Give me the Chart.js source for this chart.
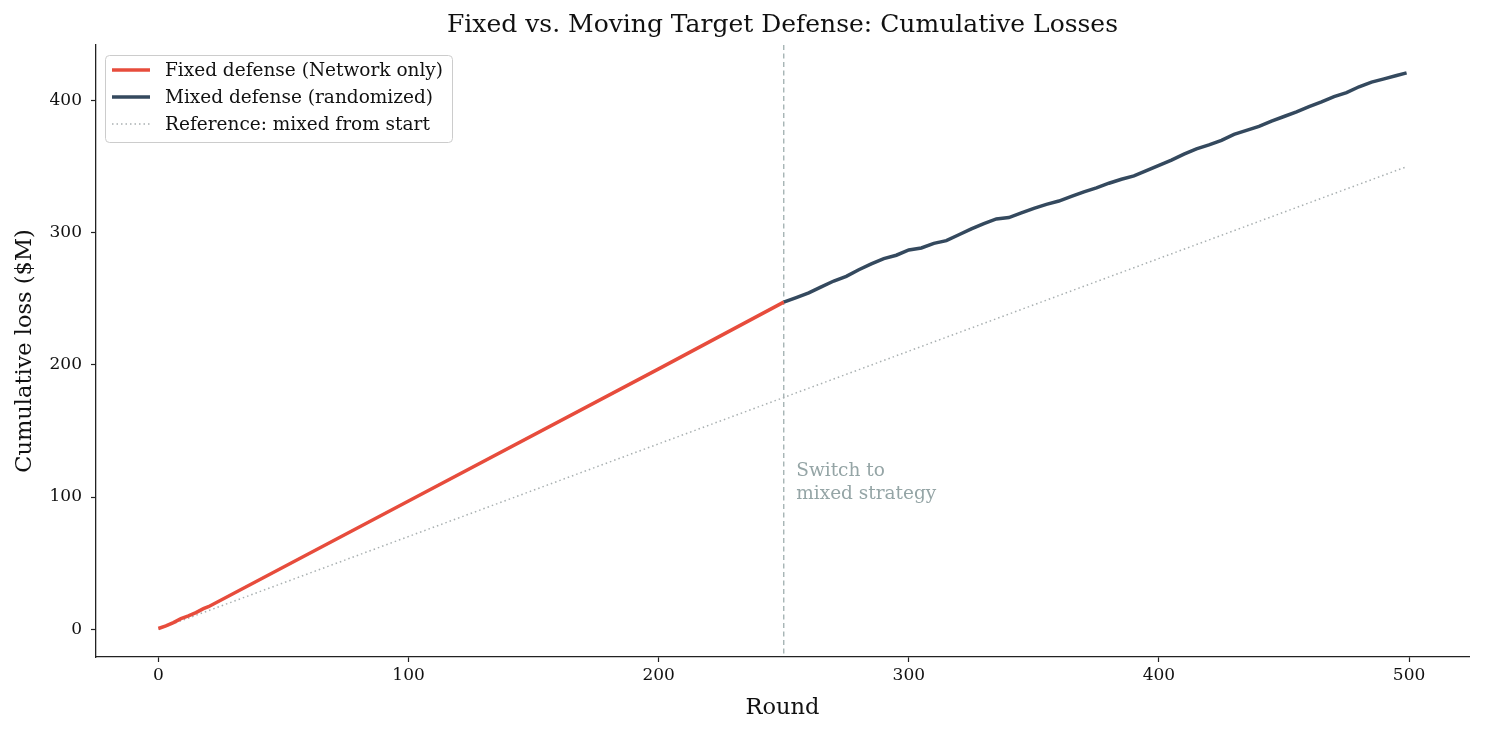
<!DOCTYPE html>
<html>
<head>
<meta charset="utf-8">
<title>Fixed vs. Moving Target Defense</title>
<script src="https://cdn.jsdelivr.net/npm/chart.js@4.4.1/dist/chart.umd.min.js"></script>
<style>
  html, body { margin: 0; padding: 0; background: #fff; }
  #wrap { width: 1485px; height: 735px; }
</style>
</head>
<body>
<div id="wrap"><canvas id="myChart" width="1485" height="735"></canvas></div>
<script>
// Data
const fixedRounds = [0, 3, 6, 9, 12, 15, 18, 20, 100, 200, 250];
const fixedLoss = [0.5, 2.5, 5, 8, 10, 12.5, 15.5, 17, 97, 197, 247.5];

const mixedRounds = [250, 255, 260, 265, 270, 275, 280, 285, 290, 295,
    300, 305, 310, 315, 320, 325, 330, 335, 340, 345,
    350, 355, 360, 365, 370, 375, 380, 385, 390, 395,
    400, 405, 410, 415, 420, 425, 430, 435, 440, 445,
    450, 455, 460, 465, 470, 475, 480, 485, 490, 495, 499];
const mixedLoss = [247.5, 251, 254.5, 259, 263.5, 267, 272, 276.5, 280.5, 283,
    287, 288.5, 292, 294, 298.5, 303, 307, 310.5, 311.5, 315,
    318.5, 321.5, 324, 327.5, 331, 334, 337.5, 340.5, 343, 347,
    351, 355, 359.5, 363.5, 366.5, 370, 374.5, 377.5, 380.5, 384.5,
    388, 391.5, 395.5, 399, 403, 406, 410.5, 414, 416.5, 419, 421];

const refRounds = [0, 499];
const refLoss = [0, 350];

const switchRound = 250;
const xTicks = [0, 100, 200, 300, 400, 500];
const yTicks = [0, 100, 200, 300, 400];

const seriesNames = ['Fixed defense (Network only)', 'Mixed defense (randomized)', 'Reference: mixed from start'];
const titleText = 'Fixed vs. Moving Target Defense: Cumulative Losses';

const FONT = "'DejaVu Serif', serif";

function toPoints(xs, ys) {
    return xs.map((x, i) => ({ x: x, y: ys[i] }));
}

// Title, switch marker, annotation and matplotlib-like legend
const decorations = {
    id: 'decorations',
    beforeDatasetsDraw(chart) {
        const { ctx, chartArea, scales } = chart;
        const xp = scales.x.getPixelForValue(switchRound);
        ctx.save();
        ctx.strokeStyle = 'rgba(149,165,166,0.9)';
        ctx.lineWidth = 1.3;
        ctx.setLineDash([5, 3.5]);
        ctx.beginPath();
        ctx.moveTo(xp, chartArea.top);
        ctx.lineTo(xp, chartArea.bottom);
        ctx.stroke();
        ctx.restore();
    },
    afterDraw(chart) {
        const { ctx, chartArea, scales } = chart;
        ctx.save();
        // title
        ctx.fillStyle = '#111';
        ctx.font = '25px ' + FONT;
        ctx.textAlign = 'center';
        ctx.textBaseline = 'middle';
        ctx.fillText(titleText, (chartArea.left + chartArea.right) / 2, 25);

        // annotation
        ctx.fillStyle = '#95a5a6';
        ctx.font = '18.5px ' + FONT;
        ctx.textAlign = 'left';
        ctx.textBaseline = 'alphabetic';
        const ax = scales.x.getPixelForValue(255);
        const ay = scales.y.getPixelForValue(100);
        ctx.fillText('Switch to', ax, ay - 21);
        ctx.fillText('mixed strategy', ax, ay + 2);

        // legend
        const bx = 105, by = 55, bw = 347, bh = 87;
        ctx.fillStyle = 'rgba(255,255,255,0.85)';
        ctx.strokeStyle = '#cccccc';
        ctx.lineWidth = 1;
        ctx.beginPath();
        ctx.roundRect(bx + 0.5, by + 0.5, bw, bh, 4);
        ctx.fill();
        ctx.stroke();
        const rows = [70, 97, 124];
        chart.data.datasets.forEach((ds, i) => {
            ctx.strokeStyle = ds.borderColor;
            ctx.lineWidth = ds.borderWidth;
            ctx.setLineDash(ds.borderDash || []);
            ctx.beginPath();
            ctx.moveTo(112, rows[i]);
            ctx.lineTo(150, rows[i]);
            ctx.stroke();
            ctx.setLineDash([]);
            ctx.fillStyle = '#111';
            ctx.font = '18.5px ' + FONT;
            ctx.textBaseline = 'middle';
            ctx.fillText(ds.label, 165, rows[i] + 1);
        });
        ctx.restore();
    }
};

const ctx = document.getElementById('myChart').getContext('2d');
const myChart = new Chart(ctx, {
    type: 'line',
    data: {
        datasets: [
            {
                label: seriesNames[0],
                data: toPoints(fixedRounds, fixedLoss),
                borderColor: '#e74c3c',
                borderWidth: 3.5,
                pointRadius: 0,
                tension: 0
            },
            {
                label: seriesNames[1],
                data: toPoints(mixedRounds, mixedLoss),
                borderColor: '#34495e',
                borderWidth: 3.5,
                pointRadius: 0,
                tension: 0
            },
            {
                label: seriesNames[2],
                data: toPoints(refRounds, refLoss),
                borderColor: '#a9b0b1',
                borderWidth: 1.5,
                borderDash: [1.5, 3],
                pointRadius: 0,
                tension: 0
            }
        ]
    },
    options: {
        responsive: false,
        animation: false,
        events: [],
        layout: { padding: { left: 0, right: 16, top: 45, bottom: 0 } },
        plugins: {
            legend: { display: false },
            title: { display: false },
            tooltip: { enabled: false }
        },
        scales: {
            x: {
                type: 'linear',
                min: -24.95,
                max: 523.95,
                afterBuildTicks: axis => { axis.ticks = xTicks.map(v => ({ value: v })); },
                afterFit: axis => { axis.height = 78; },
                grid: { display: true, drawOnChartArea: false, drawTicks: true, tickLength: 5, tickColor: '#222', tickWidth: 1.2 },
                border: { display: true, color: '#222', width: 1.3 },
                ticks: { color: '#111', font: { family: FONT, size: 17 }, padding: 3, maxRotation: 0 },
                title: { display: true, text: 'Round', color: '#111', font: { family: FONT, size: 22.5 }, padding: { top: 0, bottom: 13 } }
            },
            y: {
                type: 'linear',
                min: -21.05,
                max: 442.1,
                afterBuildTicks: axis => { axis.ticks = yTicks.map(v => ({ value: v })); },
                afterFit: axis => { axis.width = 96; },
                grid: { display: true, drawOnChartArea: false, drawTicks: true, tickLength: 5, tickColor: '#222', tickWidth: 1.2 },
                border: { display: true, color: '#222', width: 1.3 },
                ticks: { color: '#111', font: { family: FONT, size: 17 }, padding: 9 },
                title: { display: true, text: 'Cumulative loss ($M)', color: '#111', font: { family: FONT, size: 22.5 }, padding: { top: 12, bottom: 0 } }
            }
        }
    },
    plugins: [decorations]
});
</script>
</body>
</html>
